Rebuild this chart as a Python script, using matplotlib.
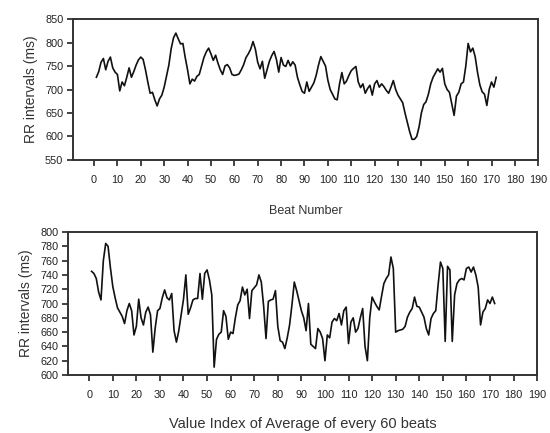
import numpy as np
import matplotlib
matplotlib.use("Agg")
import matplotlib.pyplot as plt

plt.rcParams["font.family"] = ["Liberation Sans", "DejaVu Sans"]

# Beat-by-beat RR intervals (ms), beats 1..172
rr_beats = [
    726, 738, 758, 766, 742, 760, 769, 746, 737, 732,
    697, 716, 708, 726, 746, 726, 738, 752, 763, 769,
    764, 742, 716, 692, 694, 678, 665, 680, 688, 705,
    728, 752, 787, 810, 820, 808, 797, 798, 768, 742,
    712, 722, 718, 728, 732, 750, 768, 780, 788, 776,
    762, 773, 756, 742, 732, 750, 753, 746, 732, 730,
    731, 733, 742, 753, 768, 776, 786, 802, 786, 758,
    744, 760, 724, 742, 760, 772, 781, 764, 737, 768,
    752, 749, 762, 750, 759, 752, 726, 710, 696, 692,
    716, 696, 705, 714, 730, 752, 770, 760, 750, 720,
    700, 690, 680, 678, 712, 736, 712, 718, 730, 740,
    745, 749, 716, 704, 712, 692, 702, 709, 688, 712,
    719, 705, 712, 706, 698, 692, 705, 719, 700, 688,
    680, 672, 650, 630, 610, 594, 594, 600, 620, 650,
    668, 674, 690, 712, 726, 735, 744, 737, 745, 712,
    700, 694, 670, 645, 686, 694, 712, 716, 750, 798,
    780, 788, 770, 737, 710, 695, 690, 666, 700, 716,
    705, 726,
]

# Averages of every 60 beats (ms), index 1..172
rr_avg60 = [
    745, 742, 735, 716, 705, 760, 784, 780, 750, 724,
    708, 694, 688, 682, 672, 690, 700, 690, 656, 668,
    706, 680, 670, 688, 695, 684, 632, 666, 690, 693,
    708, 719, 708, 705, 714, 662, 646, 662, 684, 706,
    740, 685, 694, 705, 707, 707, 742, 706, 742, 747,
    733, 712, 611, 650, 657, 660, 690, 682, 650, 660,
    658, 680, 698, 704, 723, 712, 720, 679, 718, 722,
    726, 740, 730, 696, 651, 703, 705, 706, 718, 668,
    648, 646, 637, 652, 670, 698, 730, 718, 704, 690,
    680, 662, 700, 643, 640, 637, 665, 660, 651, 620,
    656, 652, 674, 679, 676, 686, 670, 690, 695, 644,
    674, 680, 660, 665, 680, 693, 640, 620, 680, 709,
    702, 696, 691, 710, 728, 735, 740, 765, 749, 660,
    662, 663, 664, 668, 681, 688, 693, 709, 696, 695,
    688, 681, 665, 656, 679, 686, 690, 726, 758, 749,
    647, 752, 747, 647, 712, 728, 733, 735, 733, 749,
    751, 744, 751, 740, 723, 670, 688, 693, 705, 700,
    709, 700,
]

x_ticks = np.arange(0, 200, 10)

fig = plt.figure(figsize=(5.5, 4.33), dpi=100)
ax1 = fig.add_axes([0.1327, 0.6305, 0.8460, 0.3256])
ax2 = fig.add_axes([0.1236, 0.1339, 0.8530, 0.3303])

def style(ax, ylim, ystep, xlabel, xsize, xpad):
    ax.set_xlim(-9, 190)
    ax.set_ylim(*ylim)
    ax.set_xticks(x_ticks)
    ax.set_yticks(np.arange(ylim[0], ylim[1] + 1, ystep))
    ax.tick_params(direction="out", length=4, width=1.2, labelsize=7.8,
                   colors="#222222", pad=3)
    ax.tick_params(axis="x", pad=7)
    for s in ax.spines.values():
        s.set_linewidth(1.4)
        s.set_color("#333333")
    ax.set_ylabel("RR intervals (ms)", fontsize=10, color="#333333", labelpad=5)
    ax.set_xlabel(xlabel, fontsize=xsize, color="#333333", labelpad=xpad)

ax1.plot(np.arange(1, len(rr_beats) + 1), rr_beats, color="#111111", lw=1.2)
style(ax1, (550, 850), 50, "Beat Number", 9, 14)

ax2.plot(np.arange(1, len(rr_avg60) + 1), rr_avg60, color="#111111", lw=1.2)
style(ax2, (600, 800), 20, "Value Index of Average of every 60 beats", 10.5, 12)

fig.savefig("out.png", dpi=100)
